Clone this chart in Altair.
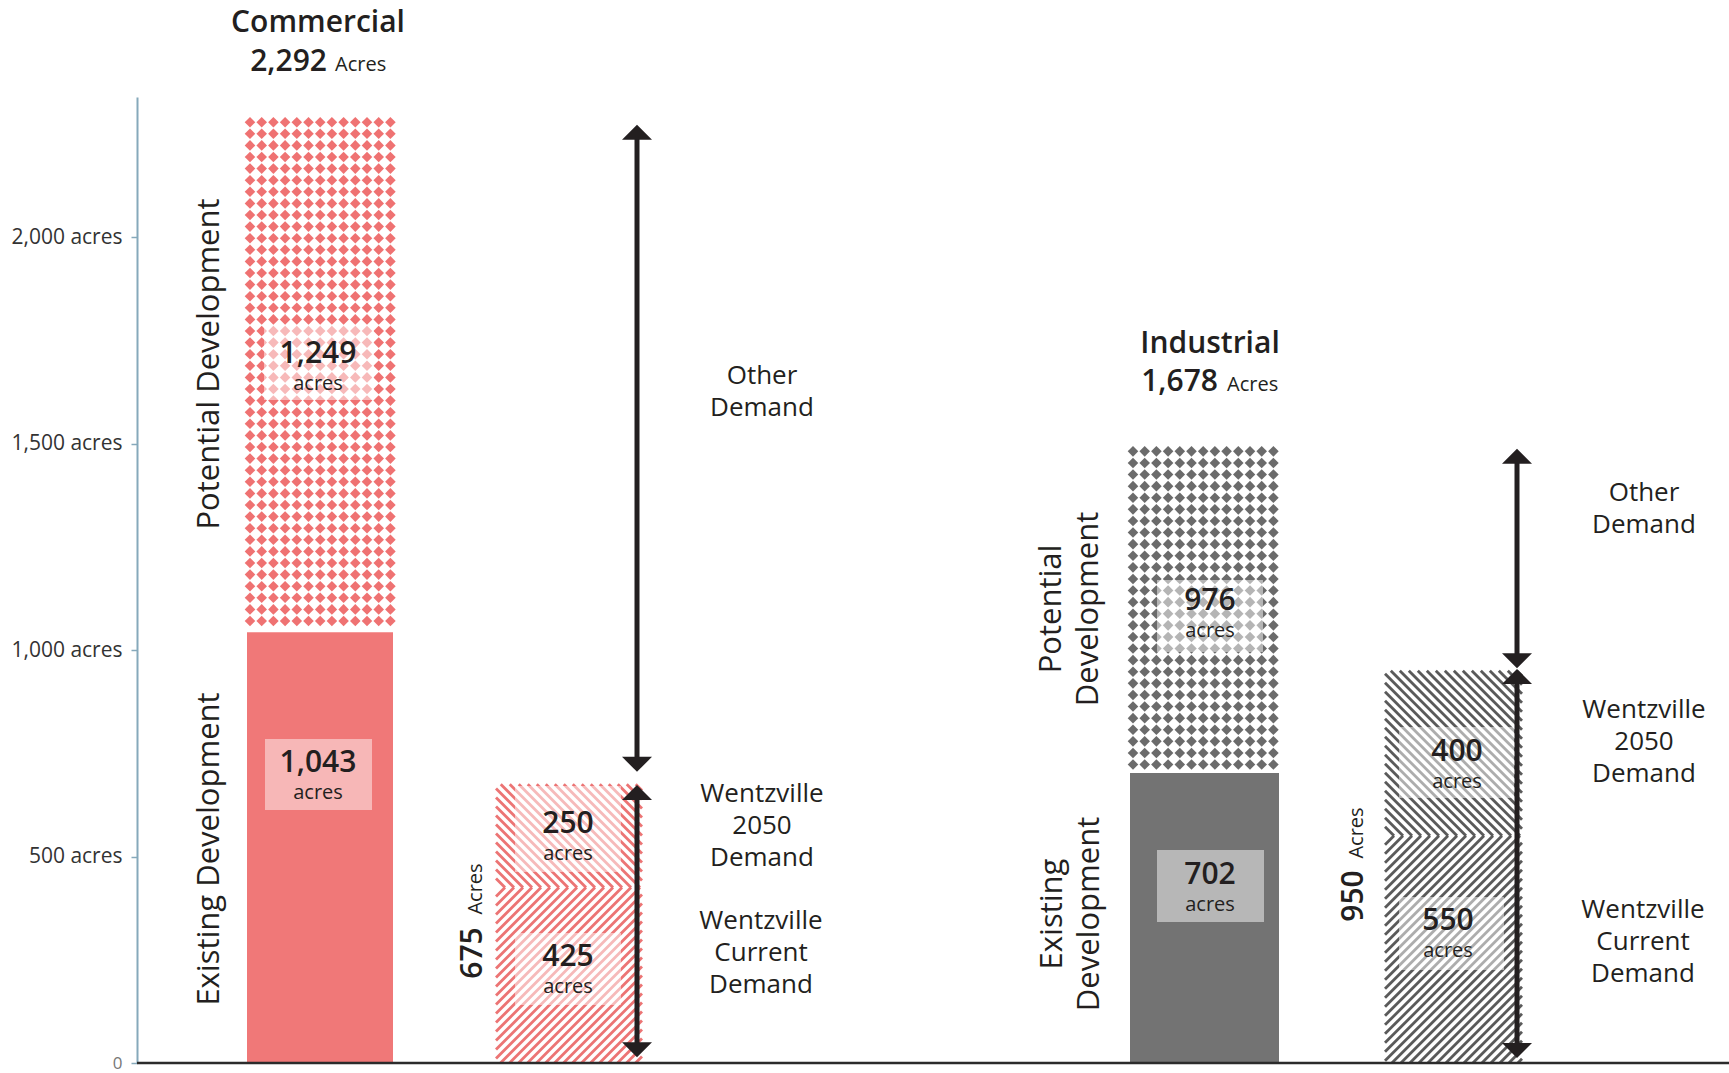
import altair as alt
import numpy as np
import pandas as pd

# ------------------------------------------------------------------ data
groups = ["Commercial", "Industrial"]
group_totals = [2292, 1678]
existing_acres = [1043, 702]
potential_acres = [1249, 976]
potential_drawn_top = [2292, 1495]      # top of dotted bar as drawn in the picture
demand_current = [425, 550]
demand_2050 = [250, 400]
demand_total = [675, 950]
other_arrow_top = [2272, 1487]
other_arrow_bottom = [705, 956]
wentz_arrow_top = [673, 954]
wentz_arrow_bottom = [14, 12]
y_ticks = [0, 500, 1000, 1500, 2000]

# ------------------------------------------------------------------ layout (canvas px)
LEFT, TOP, BASE_Y, CANVAS_W, CANVAS_H = 137, 97, 1063, 1729, 1073
PLOT_W = CANVAS_W - LEFT
PLOT_H = BASE_Y - TOP
PXA = 0.413                              # px per acre
Y_MAX = PLOT_H / PXA

def gx(px):
    return px - LEFT

def gy(py):
    return (BASE_Y - py) / PXA

supply_x = [(247, 393), (1130, 1279)]
demand_x = [(496, 642), (1385, 1522)]
arrow_x = [637, 1517]

INK = "#231f20"
BOLD = 600
solid_col = ["#f07878", "#737373"]
box_col = ["#f7b7b7", "#b7b7b7"]
dot_col = ["#ef7272", "#6b6b6b"]
stripe_col = ["#ec7474", "#5a5a5a"]

XS = alt.Scale(domain=[0, PLOT_W], nice=False, zero=False)
YS = alt.Scale(domain=[0, Y_MAX], nice=False, zero=False)
Y_AXIS = alt.Axis(
    values=y_ticks, title=None, grid=False,
    labelExpr="datum.value == 0 ? '0' : format(datum.value, ',') + ' acres'",
    labelFont="Open Sans",
    labelFontSize={"condition": {"test": "datum.value == 0", "value": 17}, "value": 21},
    labelColor={"condition": {"test": "datum.value == 0", "value": "#777777"}, "value": "#333333"},
    labelPadding=9, tickSize=6, tickColor="#86a9bb", tickWidth=1.5,
    domainColor="#86a9bb", domainWidth=2)

def X(f="x"):
    return alt.X(f"{f}:Q", scale=XS, axis=None)

def Y(f="y"):
    return alt.Y(f"{f}:Q", scale=YS, axis=Y_AXIS)

# ------------------------------------------------------------------ bars
rect_rows = []
for i in range(2):
    x0, x1 = supply_x[i]
    rect_rows.append(dict(x=gx(x0), x2=gx(x1), y=0, y2=existing_acres[i], c=solid_col[i]))
existing_boxes = [(265, 372, 739, 810), (1157, 1264, 850, 922)]
for i, (a, b, t, bt) in enumerate(existing_boxes):
    rect_rows.append(dict(x=gx(a), x2=gx(b), y=gy(bt), y2=gy(t), c=box_col[i]))
rect_df = pd.DataFrame(rect_rows)

bars = alt.Chart(rect_df).mark_rect().encode(
    x=X(), x2="x2:Q", y=Y(), y2="y2:Q",
    color=alt.Color("c:N", scale=None),
)

# dotted (potential) texture
dot_rows = []
for i in range(2):
    x0, x1 = supply_x[i]
    top_py = BASE_Y - potential_drawn_top[i] * PXA
    bot_py = BASE_Y - existing_acres[i] * PXA
    for py in np.arange(top_py + 5.8, bot_py - 2, 11.6):
        for px in np.arange(x0 + 3, x1 - 1, 11.7):
            dot_rows.append(dict(x=gx(px), y=gy(py), c=dot_col[i]))
dots = alt.Chart(pd.DataFrame(dot_rows)).mark_point(
    shape="diamond", filled=True, size=112, opacity=1, strokeWidth=0
).encode(x=X(), y=Y(), color=alt.Color("c:N", scale=None))

# striped (demand) texture with chevron join
def stripes(i, pitch=9.0):
    x0, x1 = demand_x[i]
    w = x1 - x0
    h = demand_total[i] * PXA
    hb = demand_current[i] * PXA
    rows = []
    start = min(-w, 2 * hb - h - w) - pitch
    for c in np.arange(hb, start, -pitch):
        xa, xb = max(0, -c), min(w, hb - c)
        if xb > xa:
            rows.append((xa, xa + c, xb, xb + c))
        c2 = 2 * hb - c
        xa, xb = max(0, c2 - h), min(w, c2 - hb)
        if xb > xa:
            rows.append((xa, c2 - xa, xb, c2 - xb))
    return [dict(x=gx(x0 + a), y=b / PXA, x2=gx(x0 + cc), y2=d / PXA, c=stripe_col[i])
            for a, b, cc, d in rows]

stripe_df = pd.DataFrame(stripes(0) + stripes(1))
stripe_layer = alt.Chart(stripe_df).mark_rule(strokeWidth=2.8, strokeCap="butt").encode(
    x=X(), y=Y(), x2="x2:Q", y2="y2:Q", color=alt.Color("c:N", scale=None))

# light boxes behind labels on textures
light_boxes = [(264, 374, 326, 400), (1157, 1263, 580, 652),
               (515, 621, 786, 872), (515, 621, 933, 1005),
               (1399, 1514, 727, 798), (1399, 1504, 897, 970)]
lb_df = pd.DataFrame([dict(x=gx(a), x2=gx(b), y=gy(bt), y2=gy(t)) for a, b, t, bt in light_boxes])
lights = alt.Chart(lb_df).mark_rect(color="white", opacity=0.5).encode(
    x=X(), x2="x2:Q", y=Y(), y2="y2:Q")

# baseline
base_df = pd.DataFrame([dict(x=0, x2=PLOT_W, y=0)])
baseline = alt.Chart(base_df).mark_rule(color="#2b2b2b", strokeWidth=2.5).encode(
    x=X(), x2="x2:Q", y=Y())

# arrows
shaft_rows, up_rows, down_rows = [], [], []
for i in range(2):
    xx = gx(arrow_x[i])
    for lo, hi in [(other_arrow_bottom[i], other_arrow_top[i]),
                   (wentz_arrow_bottom[i], wentz_arrow_top[i])]:
        shaft_rows.append(dict(x=xx, y=lo + 8 / PXA, y2=hi - 8 / PXA))
        up_rows.append(dict(x=xx, y=hi))
        down_rows.append(dict(x=xx, y=lo))
shafts = alt.Chart(pd.DataFrame(shaft_rows)).mark_rule(color=INK, strokeWidth=5).encode(
    x=X(), y=Y(), y2="y2:Q")
heads_up = alt.Chart(pd.DataFrame(up_rows)).mark_point(
    shape="M0,0L1,1L-1,1Z", filled=True, size=900, opacity=1, color=INK, strokeWidth=0
).encode(x=X(), y=Y())
heads_down = alt.Chart(pd.DataFrame(down_rows)).mark_point(
    shape="M0,0L1,-1L-1,-1Z", filled=True, size=900, opacity=1, color=INK, strokeWidth=0
).encode(x=X(), y=Y())

# ------------------------------------------------------------------ texts
def texts(rows, **kw):
    df = pd.DataFrame([dict(x=gx(a), y=gy(b), t=t, s=s) for a, b, t, s in rows])
    return alt.Chart(df).mark_text(font="Open Sans", color=INK, **kw).encode(
        x=X(), y=Y(), text="t:N", size=alt.Size("s:Q", scale=None, legend=None))

def block(xc, yc, txt, size, lh):
    """First-line anchor for a multi-line block centred on (xc, yc)."""
    n = txt.count("\n")
    return (xc, yc - n * lh / 2, txt, size)

def block_rot(xc, yc, txt, size, lh):
    """Rotated (270 deg) block: lines advance to the right."""
    n = txt.count("\n")
    return (xc - n * lh / 2, yc, txt, size)

fmt = lambda v: f"{v:,}"

titles = texts([(318, 32, groups[0], 30), (1210, 353, groups[1], 30)],
               fontWeight=BOLD, align="center", baseline="alphabetic")
totals = texts([(327, 71, fmt(group_totals[0]), 30), (1218, 391, fmt(group_totals[1]), 30)],
               fontWeight=BOLD, align="right", baseline="alphabetic")
totals_unit = texts([(335, 71, "Acres", 20), (1227, 391, "Acres", 20)],
                    align="left", baseline="alphabetic")

num_pos = [(318, 354, potential_acres[0]), (318, 763, existing_acres[0]),
           (568, 824, demand_2050[0]), (568, 957, demand_current[0]),
           (1210, 601, potential_acres[1]), (1210, 875, existing_acres[1]),
           (1457, 752, demand_2050[1]), (1448, 921, demand_current[1])]
nums = texts([(a, b, fmt(v), 30) for a, b, v in num_pos],
             fontWeight=BOLD, align="center", baseline="middle")
units = texts([(a, b + 30, "acres", 20) for a, b, v in num_pos],
              align="center", baseline="middle")

SLH = 37
side = texts([block_rot(210, 364, "Potential Development", 31, SLH),
              block_rot(210, 849, "Existing Development", 31, SLH),
              block_rot(1070, 609, "Potential\nDevelopment", 31, SLH),
              block_rot(1071, 914, "Existing\nDevelopment", 31, SLH)],
             angle=270, align="center", baseline="middle", lineBreak="\n", lineHeight=SLH)

tot_num = texts([(482, 953, fmt(demand_total[0]), 30), (1363, 896, fmt(demand_total[1]), 30)],
                angle=270, fontWeight=BOLD, align="center", baseline="alphabetic")
tot_unit = texts([(482, 889, "Acres", 20), (1363, 833, "Acres", 20)],
                 angle=270, align="center", baseline="alphabetic")

NLH = 32
notes = texts([block(762, 392, "Other\nDemand", 26, NLH),
               block(762, 826, "Wentzville\n2050\nDemand", 26, NLH),
               block(761, 953, "Wentzville\nCurrent\nDemand", 26, NLH),
               block(1644, 509, "Other\nDemand", 26, NLH),
               block(1644, 742, "Wentzville\n2050\nDemand", 26, NLH),
               block(1643, 942, "Wentzville\nCurrent\nDemand", 26, NLH)],
              align="center", baseline="middle", lineBreak="\n", lineHeight=NLH)

chart = alt.layer(
    bars, dots, stripe_layer, lights, baseline, shafts, heads_up, heads_down,
    titles, totals, totals_unit, nums, units, side, tot_num, tot_unit, notes,
).properties(
    width=PLOT_W, height=PLOT_H,
    autosize=alt.AutoSizeParams(type="none"),
    padding={"left": LEFT, "top": TOP, "right": 0, "bottom": CANVAS_H - BASE_Y},
    background="white",
).configure_view(stroke=None)

chart.save("out.html", embed_options={"renderer": "svg", "actions": False})
